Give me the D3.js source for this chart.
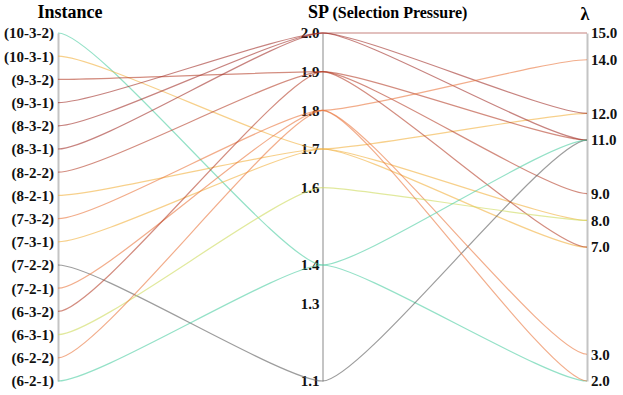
<!DOCTYPE html>
<html><head><meta charset="utf-8">
<script src="https://cdn.jsdelivr.net/npm/d3@7"></script>
<style>body{margin:0;background:#fff}</style>
</head><body><svg id="c" width="623" height="395"></svg>
<script>
const instances = ["(10-3-2)","(10-3-1)","(9-3-2)","(9-3-1)","(8-3-2)","(8-3-1)","(8-2-2)","(8-2-1)","(7-3-2)","(7-3-1)","(7-2-2)","(7-2-1)","(6-3-2)","(6-3-1)","(6-2-2)","(6-2-1)"];
const spValues = [1.4,1.7,1.9,2.0,2.0,2.0,1.9,1.7,1.8,1.7,1.1,1.8,1.9,1.6,1.8,1.4];
const lambdaValues = [2,12,11,15,12,11,9,8,14,7,11,3,7,8,2,11];
const spTicks = [2.0,1.9,1.8,1.7,1.6,1.4,1.3,1.1];
const lambdaTicks = [15,14,12,11,9,8,7,3,2];
const dims = ["Instance","SP","lambda"];
const colorKeys = [2.0,1.9,1.8,1.7,1.6,1.4,1.1];
const colorVals = ["#a2302a","#b5412c","#ea773e","#f1b03e","#cddb5b","#4ccda2","#5b5b5b"];

const svg = d3.select("#c");
const font = "'Liberation Serif','Times New Roman',serif";
const x = d3.scalePoint().domain(dims).range([58,587]);
const yInst = d3.scalePoint().domain(instances).range([33,381]);
const ySP = d3.scaleLinear().domain([1.1,2.0]).range([381,33]);
const yL = d3.scaleLinear().domain([2,15]).range([381,33]);
const color = d3.scaleOrdinal().domain(colorKeys).range(colorVals);

function styleAxis(g){
  g.select(".domain").attr("stroke","#c4c4c4").attr("stroke-width",2);
  g.selectAll(".tick line").remove();
  g.selectAll("text").attr("font-family",font).attr("font-weight","bold").attr("font-size",15).attr("fill","#111");
}
svg.append("g").attr("transform",`translate(${x("Instance")},0)`)
  .call(d3.axisLeft(yInst).tickSize(0).tickPadding(4)).call(styleAxis);
svg.append("g").attr("transform",`translate(${x("SP")},0)`)
  .call(d3.axisLeft(ySP).tickValues(spTicks).tickFormat(d3.format(".1f")).tickSize(0).tickPadding(3)).call(styleAxis);
svg.append("g").attr("transform",`translate(${x("lambda")},0)`)
  .call(d3.axisRight(yL).tickValues(lambdaTicks).tickFormat(d3.format(".1f")).tickSize(0).tickPadding(4)).call(styleAxis);

const k = 0.15;
function pathFor(pts){
  const p = d3.path();
  p.moveTo(pts[0][0],pts[0][1]);
  for(let i=1;i<pts.length;i++){
    const [x0,y0]=pts[i-1],[x1,y1]=pts[i];
    const dx=x1-x0;
    p.bezierCurveTo(x0+k*dx,y0,x1-k*dx,y1,x1,y1);
  }
  return p.toString();
}
const rows = instances.map((d,i)=>({inst:d,sp:spValues[i],lam:lambdaValues[i]}));
svg.append("g").selectAll("path").data(rows).join("path")
  .attr("d",r=>pathFor([[x("Instance"),yInst(r.inst)],[x("SP"),ySP(r.sp)],[x("lambda"),yL(r.lam)]]))
  .attr("fill","none").attr("stroke",r=>color(r.sp)).attr("stroke-width",1.2).attr("stroke-opacity",0.6);

svg.append("text").attr("x",70).attr("y",18).attr("text-anchor","middle")
  .attr("font-family",font).attr("font-weight","bold").attr("font-size",18).text("Instance");
const t = svg.append("text").attr("x",308).attr("y",18)
  .attr("font-family",font).attr("font-weight","bold").attr("font-size",18);
t.append("tspan").text("SP ");
t.append("tspan").attr("font-size",16).text("(Selection Pressure)");
svg.append("text").attr("x",585).attr("y",20).attr("text-anchor","middle")
  .attr("font-family",font).attr("font-weight","bold").attr("font-size",18).text("λ");
</script></body></html>
